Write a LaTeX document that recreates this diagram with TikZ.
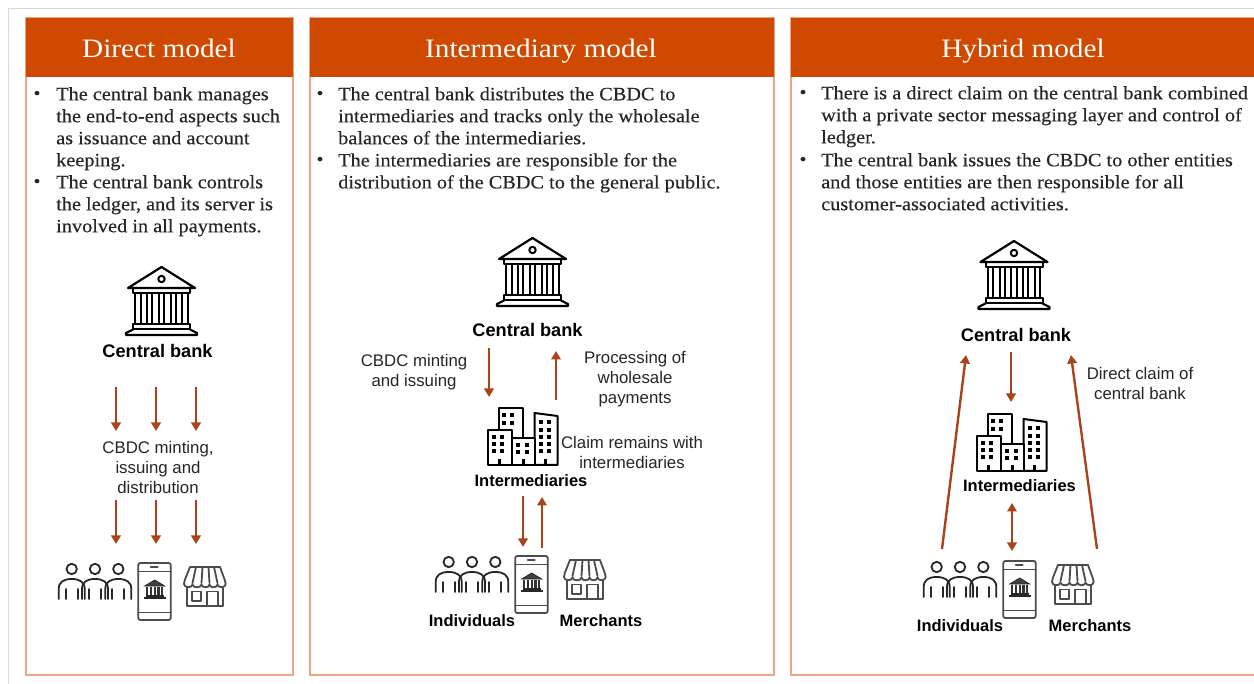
\documentclass[tikz,border=0pt]{standalone}
\usepackage{fontspec}
\setmainfont{Liberation Serif}[FakeStretch=1.08,FakeBold=0.25]
\setsansfont{Liberation Sans}
\newfontfamily\titlefont{Liberation Serif}[FakeStretch=1.1]
\usetikzlibrary{arrows.meta}
\definecolor{hdr}{HTML}{CF4A00}
\definecolor{edge}{HTML}{EBA587}
\definecolor{arr}{HTML}{A8431A}
\definecolor{ink}{HTML}{262626}
\definecolor{frame}{HTML}{D9D9D9}
\tikzset{
 x=1pt,y=-1pt,
 panel/.style={draw=edge,line width=1.5pt,fill=white},
 header/.style={fill=hdr,draw=none},
 title/.style={text=white,font=\titlefont\fontsize{26.6}{28}\selectfont,anchor=base,inner sep=0},
 body/.style={text=ink,font=\fontsize{18.8}{22}\selectfont,align=left,anchor=north west,inner sep=0},
 bul/.style={text=ink,font=\fontsize{18}{22}\selectfont,anchor=center,inner sep=0},
 lab/.style={text=ink,font=\sffamily\fontsize{16.8}{20}\selectfont,align=center,anchor=center,inner sep=0},
 blab/.style={text=black,font=\sffamily\bfseries\fontsize{16.5}{20}\selectfont,align=center,anchor=center,inner sep=0},
 cblab/.style={blab,font=\sffamily\bfseries\fontsize{18.2}{20}\selectfont},
 flow/.style={draw=arr,line width=2.4pt,-{Triangle[length=8.5pt,width=9.5pt]}},
 flowboth/.style={draw=arr,line width=2.4pt,{Triangle[length=8.5pt,width=9.5pt]}-{Triangle[length=8.5pt,width=9.5pt]}},
 icon/.style={draw=#1,line width=2pt,line join=round,line cap=round},
 icon/.default=black,
 bankicon/.pic={
  \begin{scope}[icon]
   \draw[line width=2.2pt] (0,0) -- (-33.5,21) -- (33.5,21) -- cycle;
   \draw (0,12) circle (3.2);
   \draw (-28.5,21) -- (-28.5,26) -- (28.5,26) -- (28.5,21);
   \foreach \c in {-23.5,-11.8,0,11.8,23.5}{\draw[fill=white] (\c-2.6,26) rectangle (\c+2.6,57);}
   \draw (-28.5,57) rectangle (28.5,62.5);
   \draw[line width=2.2pt] (-28.5,62.5) -- (-35.5,66) -- (-35.5,68) -- (35.5,68) -- (35.5,66) -- (28.5,62.5);
  \end{scope}
 },
 miniicon/.pic={
  \begin{scope}[line width=.8pt,draw=black!85]
   \draw[fill=black!75] (0,0) -- (-10,6) -- (10,6) -- cycle;
   \foreach \c in {-7.5,-3.75,0,3.75,7.5}{\fill[black!80] (\c-1.2,7) rectangle (\c+1.2,15);}
   \fill[black!85] (-9,15) rectangle (9,17);
   \fill[black!85] (-11,17) rectangle (11,19);
  \end{scope}
 },
 persone/.pic={
  \begin{scope}[icon=black!85,line width=1.8pt]
   \draw (0,0) circle (5.2);
   \draw (-13,30) -- (-13,20) .. controls (-13,13) and (-8,10) .. (0,10) .. controls (8,10) and (13,13) .. (13,20) -- (13,30);
   \draw (-6,20) -- (-6,30);
   \draw (6,20) -- (6,30);
  \end{scope}
 },
 retail/.pic={
  \pic at (0,0) {persone};
  \pic at (23.3,0) {persone};
  \pic at (46.6,0) {persone};
  \begin{scope}[icon=black!70,line width=1.8pt]
   \draw[rounded corners=2pt] (66.6,-6) rectangle (99,51);
   \draw (66.6,2.5) -- (99,2.5);
   \draw (66.6,43.5) -- (99,43.5);
   \draw (79,-2) -- (86,-2);
  \end{scope}
  \pic at (83,11) {miniicon};
 },
 shopicon/.pic={
  \begin{scope}[icon=black!70,line width=1.8pt]
   \draw (6,0) -- (36,0);
   \draw[rounded corners=2pt] (6,0) -- (0,15) .. controls (0,21) and (8,21) .. (8.5,16)
     .. controls (9,21) and (17,21) .. (17.5,16) .. controls (18,21) and (25,21) .. (25.5,16)
     .. controls (26,21) and (33,21) .. (33.5,16) .. controls (34,21) and (42,21) .. (41.5,15) -- (36,0);
   \draw (8.5,16) -- (12,0) (17.5,16) -- (18.5,0) (25.5,16) -- (24.5,0) (33.5,16) -- (30,0);
   \draw (3,20) -- (3,39) -- (39,39) -- (39,20);
   \draw (8,24.5) rectangle (17,34);
   \draw (23,39) -- (23,24.5) -- (34,24.5) -- (34,39);
  \end{scope}
 },
 cityicon/.pic={
  \begin{scope}[icon,line width=2pt]
   \draw[fill=white] (11,0) -- (34.5,0) -- (34.5,30) -- (11,30) -- cycle;
   \draw[fill=white] (46.5,5) -- (69.5,8) -- (69.5,57) -- (46.5,57) -- cycle;
   \draw[fill=white] (0,22) -- (24,22) -- (24,57) -- (0,57) -- cycle;
   \draw[fill=white] (24,30) -- (46.5,30) -- (46.5,57) -- (24,57) -- cycle;
   \foreach \px/\py in {16/7,24/7,16/15,24/15,
      6/29,14/29,6/36,14/36,6/43,14/43,
      30/37,39/37,30/44,39/44,
      53/14,61/14,53/22,61/22,53/29,61/29,53/36,61/36,53/43,61/43}{
     \fill[black] (\px-1.8,\py-1.8) rectangle (\px+1.8,\py+1.8);}
   \fill (10,51) rectangle (13,57);
   \fill (33.5,51) rectangle (36.5,57);
   \fill (56,51) rectangle (59,57);
  \end{scope}
 }
}
\begin{document}
\begin{tikzpicture}
\useasboundingbox (0,0) rectangle (1254,684);
\fill[white] (0,0) rectangle (1254,684);
\draw[frame,line width=1pt] (8,684) -- (8,8.5) -- (1254,8.5);

% panels
\draw[panel] (26,18) rectangle (293,675);
\draw[panel] (310,18) rectangle (774,675);
\draw[panel] (791,18) rectangle (1262,675);
\fill[header] (26,18) rectangle (293,77);
\fill[header] (310,18) rectangle (774,77);
\fill[header] (791,18) rectangle (1254,77);
\node[title] (t1) at (159,58) {Direct model};
\node[title] (t2) at (541,58) {Intermediary model};
\node[title] (t3) at (1023,58) {Hybrid model};

% text panel 1
\node[bul] (b11) at (37,95) {•};
\node[body] (x11) at (56,87) {The central bank manages\\the end-to-end aspects such\\as issuance and account\\keeping.};
\node[bul] (b12) at (37,183) {•};
\node[body] (x12) at (56,175) {The central bank controls\\the ledger, and its server is\\involved in all payments.};
% text panel 2
\node[bul] (b21) at (320,95) {•};
\node[body] (x21) at (338,87) {The central bank distributes the CBDC to\\intermediaries and tracks only the wholesale\\balances of the intermediaries.};
\node[bul] (b22) at (320,161) {•};
\node[body] (x22) at (338,153) {The intermediaries are responsible for the\\distribution of the CBDC to the general public.};
% text panel 3
\node[bul] (b31) at (803,94) {•};
\node[body] (x31) at (821,86) {There is a direct claim on the central bank combined\\with a private sector messaging layer and control of\\ledger.};
\node[bul] (b32) at (803,161) {•};
\node[body] (x32) at (821,153) {The central bank issues the CBDC to other entities\\and those entities are then responsible for all\\customer-associated activities.};

% icons
\pic at (161.5,267) {bankicon};
\pic at (532.5,238) {bankicon};
\pic at (1014,241) {bankicon};
\pic at (71.7,569) {retail};
\pic at (448.7,562) {retail};
\pic at (936.7,567) {retail};
\pic at (184,567) {shopicon};
\pic at (564,560) {shopicon};
\pic at (1052,565) {shopicon};
\pic at (488,408) {cityicon};
\pic at (977,414) {cityicon};

% labels panel 1
\node[cblab] (cb1) at (157.5,351) {Central bank};
\node[lab] (m1) at (158,467) {CBDC minting,\\issuing and\\distribution};
% labels panel 2
\node[cblab] (cb2) at (527.5,330) {Central bank};
\node[lab] (m2) at (414,372) {CBDC minting\\and issuing};
\node[lab] (m3) at (635,379) {Processing of\\wholesale\\payments};
\node[lab] (m4) at (632,452) {Claim remains with\\intermediaries};
\node[blab] (im2) at (531,481) {Intermediaries};
\node[blab] (in2) at (472,621) {Individuals};
\node[blab] (me2) at (601,621) {Merchants};
% labels panel 3
\node[cblab] (cb3) at (1016,335) {Central bank};
\node[lab] (m5) at (1140,383) {Direct claim of\\central bank};
\node[blab] (im3) at (1019.5,486) {Intermediaries};
\node[blab] (in3) at (960,626) {Individuals};
\node[blab] (me3) at (1090,626) {Merchants};

% connector ends
\foreach \n/\cx in {a/116,b/156,c/196}{
  \coordinate (\n1) at (\cx,387); \coordinate (\n2) at (\cx,431);
  \coordinate (\n3) at (\cx,500); \coordinate (\n4) at (\cx,544);
  \draw[flow] (\n1) -- (\n2);
  \draw[flow] (\n3) -- (\n4);
}
\coordinate (e1) at (489,348); \coordinate (e2) at (489,397);
\coordinate (f1) at (556,400); \coordinate (f2) at (556,351);
\coordinate (g1) at (523,496); \coordinate (g2) at (523,547);
\coordinate (h1) at (542,548); \coordinate (h2) at (542,497);
\coordinate (i1) at (942,549); \coordinate (i2) at (966,355);
\coordinate (j1) at (1011,352); \coordinate (j2) at (1011,402);
\coordinate (k1) at (1012,503); \coordinate (k2) at (1012,551);
\coordinate (l1) at (1097,549); \coordinate (l2) at (1071,355);
\draw[flow] (e1) -- (e2);
\draw[flow] (f1) -- (f2);
\draw[flow] (g1) -- (g2);
\draw[flow] (h1) -- (h2);
\draw[flow] (i1) -- (i2);
\draw[flow] (j1) -- (j2);
\draw[flowboth] (k1) -- (k2);
\draw[flow] (l1) -- (l2);
\end{tikzpicture}
\end{document}
